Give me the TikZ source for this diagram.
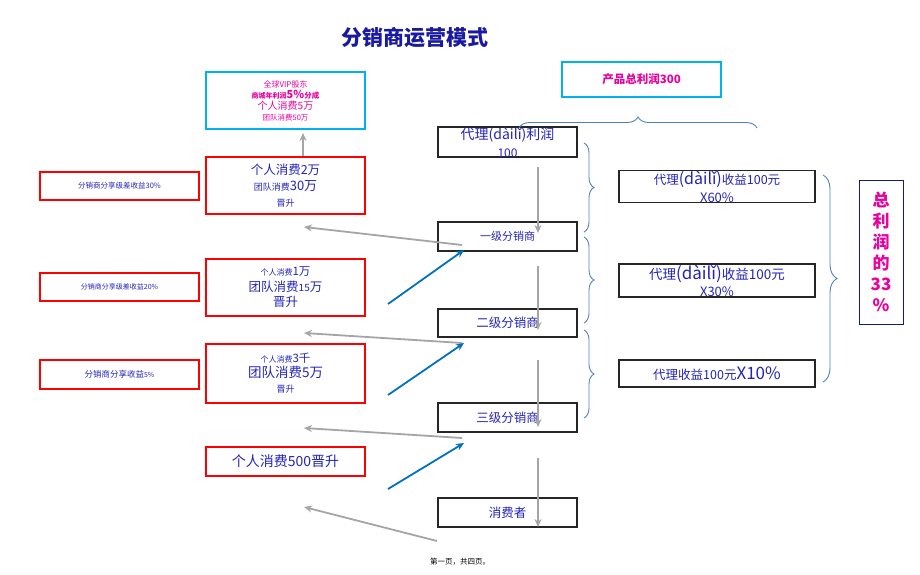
\documentclass[tikz,border=0pt]{standalone}
\usepackage{fontspec}
\setmainfont{Noto Sans CJK SC}
\usetikzlibrary{arrows.meta,decorations.pathreplacing}
\definecolor{tblue}{RGB}{35,35,185}
\definecolor{ttitle}{RGB}{26,26,160}
\definecolor{mag}{RGB}{232,0,160}
\definecolor{cyanb}{RGB}{0,176,240}
\definecolor{braceb}{RGB}{79,129,189}
\definecolor{garr}{RGB}{165,165,165}
\definecolor{barr}{RGB}{0,112,192}
\definecolor{navyb}{RGB}{20,30,110}
\tikzset{
  redbox/.style={draw=red,line width=2pt,minimum width=159pt,inner sep=0pt,align=center,text=tblue},
  cyanbox/.style={draw=cyanb,line width=2pt,minimum width=159pt,inner sep=0pt,align=center,text=mag},
  blkbox/.style={draw=black!85,line width=1.6pt,inner sep=0pt,align=center,text=tblue},
  grayarr/.style={draw=garr,line width=1.8pt,-{Stealth[length=8pt,width=7pt]}},
  bluearr/.style={draw=barr,line width=1.8pt,-{Stealth[length=8pt,width=7pt]}},
  bracestyle/.style={draw=braceb,line width=0.9pt,decorate},
}
\begin{document}
\begin{tikzpicture}[x=1pt,y=-1pt]
\useasboundingbox (0,0) rectangle (920,575);
% title
\node[text=ttitle,font=\fontsize{21}{24}\selectfont\bfseries] (title) at (415,38) {分销商运营模式};
% cyan VIP box
\node[cyanbox,minimum height=57pt,font=\fontsize{8}{11}\selectfont] (vip) at (285.5,100.5) {%
 {\fontsize{8}{10}\selectfont 全球VIP股东}\\
 {\fontsize{7}{10}\selectfont\bfseries 商城年利润}{\fontsize{11}{11}\selectfont\bfseries 5\%}{\fontsize{7.5}{10}\selectfont\bfseries 分成}\\
 {\fontsize{10}{12}\selectfont 个人消费5万}\\
 {\fontsize{7.5}{9}\selectfont 团队消费50万}};
% red boxes
\node[redbox,minimum height=57pt,font=\fontsize{10}{16}\selectfont] (r1) at (285.5,185.5) {%
 {\fontsize{12.5}{14}\selectfont 个人消费2万}\\
 {\fontsize{9}{12}\selectfont 团队消费}{\fontsize{13}{12}\selectfont 30万}\\
 {\fontsize{9}{11}\selectfont 晋升}};
\node[redbox,minimum height=57pt,font=\fontsize{10}{15.5}\selectfont] (r2) at (285.5,287.5) {%
 {\fontsize{8}{10}\selectfont 个人消费}{\fontsize{11.5}{12}\selectfont 1万}\\
 {\fontsize{12.5}{14}\selectfont 团队消费}{\fontsize{10}{12}\selectfont 15}{\fontsize{12.5}{14}\selectfont 万}\\
 {\fontsize{12.5}{14}\selectfont 晋升}};
\node[redbox,minimum height=59pt,font=\fontsize{10}{15}\selectfont] (r3) at (285.5,373.5) {%
 {\fontsize{8}{10}\selectfont 个人消费}{\fontsize{11.5}{12}\selectfont 3千}\\
 {\fontsize{13.5}{15}\selectfont 团队消费5万}\\
 {\fontsize{9}{11}\selectfont 晋升}};
\node[redbox,minimum height=29pt] (r4) at (285.5,461.5) {\fontsize{14}{15}\selectfont 个人消费500晋升};
% left red boxes
\node[redbox,minimum height=28pt,font=\fontsize{7.5}{9}\selectfont] (l1) at (119.5,186) {分销商分享级差收益30\%};
\node[redbox,minimum height=28pt,font=\fontsize{7}{9}\selectfont] (l2) at (119.5,287) {分销商分享级差收益20\%};
\node[redbox,minimum height=29pt] (l3) at (119.5,374.5) {{\fontsize{8.5}{10}\selectfont 分销商分享收益}{\fontsize{7}{10}\selectfont 5\%}};
% centre column
\node[blkbox,minimum width=139pt,minimum height=30pt,font=\fontsize{12}{18}\selectfont] (c1) at (507.5,142) {%
 {\fontsize{14}{15}\selectfont 代理(dàilǐ)利润}\\{\fontsize{12}{13}\selectfont 100}};
\node[blkbox,minimum width=139pt,minimum height=29pt,font=\fontsize{11}{13}\selectfont] (c2) at (507.5,236.5) {一级分销商};
\node[blkbox,minimum width=139pt,minimum height=28pt,font=\fontsize{12.5}{14}\selectfont] (c3) at (507.5,323) {二级分销商};
\node[blkbox,minimum width=139pt,minimum height=29pt,font=\fontsize{12.5}{14}\selectfont] (c4) at (507.5,417.5) {三级分销商};
\node[blkbox,minimum width=139pt,minimum height=29pt,font=\fontsize{12.5}{14}\selectfont] (c5) at (507.5,512.5) {消费者};
% right column
\node[blkbox,minimum width=196pt,minimum height=29pt,font=\fontsize{12}{17.5}\selectfont] (p1) at (717,186.5) {%
 {\fontsize{12.5}{14}\selectfont 代理}{\fontsize{16}{16}\selectfont (dàilǐ)}{\fontsize{12.5}{14}\selectfont 收益100元}\\{\fontsize{13}{14}\selectfont X60\%}};
\node[blkbox,minimum width=196pt,minimum height=29pt,font=\fontsize{12}{17.5}\selectfont] (p2) at (717,280.5) {%
 {\fontsize{13.5}{14}\selectfont 代理}{\fontsize{17}{16}\selectfont (dàilǐ)}{\fontsize{13.5}{14}\selectfont 收益100元}\\{\fontsize{13}{14}\selectfont X30\%}};
\node[blkbox,minimum width=196pt,minimum height=27pt] (p3) at (717,373.5) {%
 {\fontsize{12.5}{14}\selectfont 代理收益100元}{\fontsize{17}{16}\selectfont X10\%}};
% total box
\node[draw=navyb,line width=1pt,minimum width=44pt,minimum height=144pt,inner sep=0pt,align=center,text=mag,font=\fontsize{17}{21}\selectfont\bfseries] (tot) at (881,252) {总\\利\\润\\的\\33\\\%};
% product box
\node[cyanbox,minimum height=35pt,font=\fontsize{11.5}{13}\selectfont\bfseries] (prod) at (641.5,79.5) {产品总利润300};
% braces
\coordinate (bt1) at (519,128); \coordinate (bt2) at (757,128);
\draw[bracestyle,decoration={brace,amplitude=11pt,aspect=0.5}] (bt1) -- (bt2);
\coordinate (b11) at (584,143); \coordinate (b12) at (584,232);
\draw[bracestyle,decoration={brace,amplitude=10pt}] (b11) -- (b12);
\coordinate (b21) at (584,237); \coordinate (b22) at (584,323);
\draw[bracestyle,decoration={brace,amplitude=10pt}] (b21) -- (b22);
\coordinate (b31) at (584,330); \coordinate (b32) at (584,418);
\draw[bracestyle,decoration={brace,amplitude=10pt}] (b31) -- (b32);
\coordinate (bb1) at (823,175); \coordinate (bb2) at (823,382);
\draw[bracestyle,decoration={brace,amplitude=14pt}] (bb1) -- (bb2);
% gray vertical arrows in centre column
\coordinate (v1a) at (538,167); \coordinate (v1b) at (538,233);
\coordinate (v2a) at (538,266); \coordinate (v2b) at (538,330);
\coordinate (v3a) at (538,360); \coordinate (v3b) at (538,427);
\coordinate (v4a) at (538,458); \coordinate (v4b) at (538,527);
\draw[grayarr] (v1a) -- (v1b);
\draw[grayarr] (v2a) -- (v2b);
\draw[grayarr] (v3a) -- (v3b);
\draw[grayarr] (v4a) -- (v4b);
% gray arrow up to VIP box
\draw[grayarr] (r1.north -| 303,0) -- ([yshift=-3pt]vip.south -| 303,0);
% gray slanted arrows to the left
\coordinate (g1a) at (462,245); \coordinate (g1b) at (304,227);
\coordinate (g2a) at (462,343); \coordinate (g2b) at (304,333);
\coordinate (g3a) at (462,438); \coordinate (g3b) at (304,428);
\coordinate (g4a) at (437,541); \coordinate (g4b) at (304,507);
\draw[grayarr] (g1a) -- (g1b);
\draw[grayarr] (g2a) -- (g2b);
\draw[grayarr] (g3a) -- (g3b);
\draw[grayarr] (g4a) -- (g4b);
% blue arrows
\coordinate (u1a) at (388,304); \coordinate (u1b) at (464,250);
\coordinate (u2a) at (388,395); \coordinate (u2b) at (464,343);
\coordinate (u3a) at (388,489); \coordinate (u3b) at (464,443);
\draw[bluearr] (u1a) -- (u1b);
\draw[bluearr] (u2a) -- (u2b);
\draw[bluearr] (u3a) -- (u3b);
% footer
\node[font=\fontsize{7.5}{9}\selectfont] (foot) at (460,562) {第一页，共四页。};
\end{tikzpicture}
\end{document}
